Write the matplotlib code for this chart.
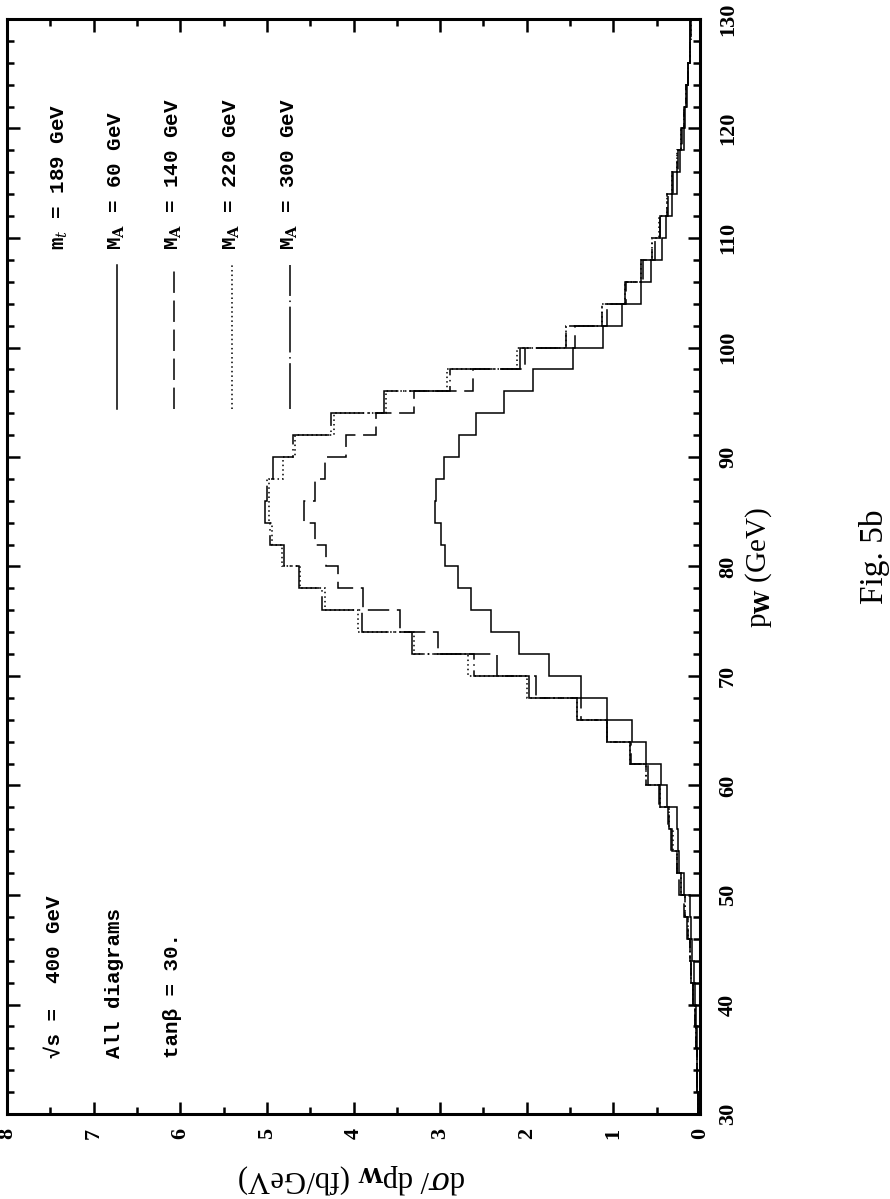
import numpy as np
import matplotlib
matplotlib.use("Agg")
import matplotlib.pyplot as plt

plt.rcParams['mathtext.fontset'] = 'dejavuserif'

# ---------------- data ----------------
# bin edges in p_W (GeV)
pw_edges = [30, 32, 34, 36, 38, 40, 42, 44, 46, 48, 50, 52, 54, 56, 58, 60,
            62, 64, 66, 68, 70, 72, 74, 76, 78, 80, 82, 84, 86, 88, 90, 92,
            94, 96, 98, 100, 102, 104, 106, 108, 110, 112, 114, 116, 118, 120,
            122, 124, 126, 128, 130]

# d sigma / d p_W (fb/GeV)
ma60 = [0.02, 0.03, 0.03, 0.04, 0.05,
        0.06, 0.07, 0.09, 0.10, 0.115,
        0.185, 0.24, 0.25, 0.27, 0.38,
        0.45, 0.62, 0.78, 1.07, 1.37,
        1.74, 2.09, 2.41, 2.64, 2.79,
        2.94, 2.99, 3.06, 3.05, 2.96,
        2.78, 2.59, 2.26, 1.93, 1.47,
        1.12, 0.90, 0.68, 0.57, 0.44,
        0.39, 0.32, 0.27, 0.23, 0.19,
        0.17, 0.15, 0.14, 0.12, 0.11]

ma140 = [0.02, 0.03, 0.04, 0.05, 0.06,
         0.08, 0.10, 0.12, 0.14, 0.18,
         0.24, 0.27, 0.33, 0.37, 0.47,
         0.60, 0.80, 1.07, 1.37, 1.89,
         2.34, 3.03, 3.46, 3.89, 4.18,
         4.32, 4.45, 4.57, 4.45, 4.33,
         4.09, 3.74, 3.30, 2.62, 2.02,
         1.44, 1.07, 0.85, 0.66, 0.52,
         0.46, 0.37, 0.31, 0.25, 0.21,
         0.18, 0.16, 0.14, 0.12, 0.10]

ma220 = [0.02, 0.03, 0.04, 0.05, 0.06,
         0.08, 0.10, 0.12, 0.14, 0.17,
         0.22, 0.26, 0.31, 0.36, 0.46,
         0.62, 0.81, 1.07, 1.42, 2.00,
         2.68, 3.30, 3.95, 4.33, 4.62,
         4.83, 4.94, 4.98, 4.98, 4.81,
         4.68, 4.22, 3.62, 2.92, 2.11,
         1.55, 1.13, 0.87, 0.68, 0.55,
         0.47, 0.38, 0.32, 0.26, 0.22,
         0.18, 0.16, 0.14, 0.12, 0.10]

ma300 = [0.02, 0.03, 0.04, 0.05, 0.06,
         0.08, 0.10, 0.12, 0.15, 0.17,
         0.22, 0.27, 0.32, 0.36, 0.46,
         0.62, 0.81, 1.07, 1.42, 1.97,
         2.61, 3.33, 3.90, 4.36, 4.63,
         4.80, 4.96, 5.02, 5.00, 4.93,
         4.70, 4.26, 3.65, 2.89, 2.08,
         1.55, 1.13, 0.87, 0.68, 0.55,
         0.46, 0.38, 0.32, 0.27, 0.22,
         0.18, 0.16, 0.14, 0.12, 0.11]

series_labels = ["M$_\\mathbf{A}$ = 60 GeV", "M$_\\mathbf{A}$ = 140 GeV",
                 "M$_\\mathbf{A}$ = 220 GeV", "M$_\\mathbf{A}$ = 300 GeV"]
value_ticks = [0, 1, 2, 3, 4, 5, 6, 7, 8]
pw_ticks = [30, 40, 50, 60, 70, 80, 90, 100, 110, 120, 130]

# ---------------- figure ----------------
W, H = 890, 1199
fig = plt.figure(figsize=(W / 100, H / 100), dpi=100)
ax = fig.add_axes([7 / W, 85 / H, 693 / W, 1095 / H])

ax.set_xlim(8, 0)
ax.set_ylim(30, 130)

lw = 1.1
styles = ['-', (0, (14, 5)), (0, (1, 2)), (0, (30, 3, 1, 3))]
for vals, ls in zip([ma60, ma140, ma220, ma300], styles):
    ax.stairs(vals, pw_edges, orientation='horizontal', baseline=None,
              color='black', linewidth=lw, linestyle=ls)

# frame & ticks
for s in ax.spines.values():
    s.set_linewidth(2.2)

tick_font = dict(family='Liberation Serif', weight='bold', size=16)
ax.set_xticks(value_ticks, labels=[str(v) for v in value_ticks],
              rotation=90, ha='center', va='top', **tick_font)
ax.set_xticks(np.arange(0.5, 8, 1.0), minor=True)
ax.set_yticks(pw_ticks, labels=[str(p) for p in pw_ticks],
              rotation=90, ha='left', va='center', **tick_font)
ax.set_yticks(np.arange(30, 131, 2), minor=True)

ax.tick_params(which='both', direction='in', top=True, bottom=True,
               left=True, right=True, labelleft=False, labelright=True,
               labelbottom=True, labeltop=False, width=1.8)
ax.tick_params(which='major', length=9)
ax.tick_params(which='minor', length=5)
ax.tick_params(axis='x', which='major', pad=10)
ax.tick_params(axis='y', which='major', pad=13)

# ---------------- annotations (rotated page) ----------------
mono = ['Liberation Mono', 'DejaVu Sans Mono']
txt_kw = dict(rotation=90, ha='center', va='bottom', family=mono,
              weight='bold', size=15)

ax.text(7.39, 108.9, "m$_t$ = 189 GeV", **txt_kw)
legend_x = [6.73, 6.07, 5.40, 4.73]
for xv, lab, ls in zip(legend_x, series_labels, styles):
    ax.text(xv, 108.9, lab, **txt_kw)
    ax.plot([xv, xv], [94.4, 107.5], color='black', linewidth=lw, linestyle=ls)

ax.text(7.45, 35.1, "\u221As =  400 GeV", **txt_kw)
ax.text(6.76, 35.1, "All diagrams", **txt_kw)
ax.text(6.09, 35.1, "tan\u03b2 = 30.", **txt_kw)

# axis titles
fig.text(759 / W, 1 - 567 / H, "p$_\\mathbf{W}$ (GeV)", rotation=90,
         ha='center', va='center', family='Liberation Serif', size=21)
fig.text(352 / W, 1 - 1179 / H, "d$\\sigma$/ dp$_\\mathbf{W}$ (fb/GeV)",
         rotation=180, ha='center', va='center', family='Liberation Serif',
         size=22)
fig.text(875 / W, 1 - 557 / H, "Fig. 5b", rotation=90, ha='center',
         va='center', family='Liberation Serif', size=24)

fig.savefig("out.png", dpi=100)
